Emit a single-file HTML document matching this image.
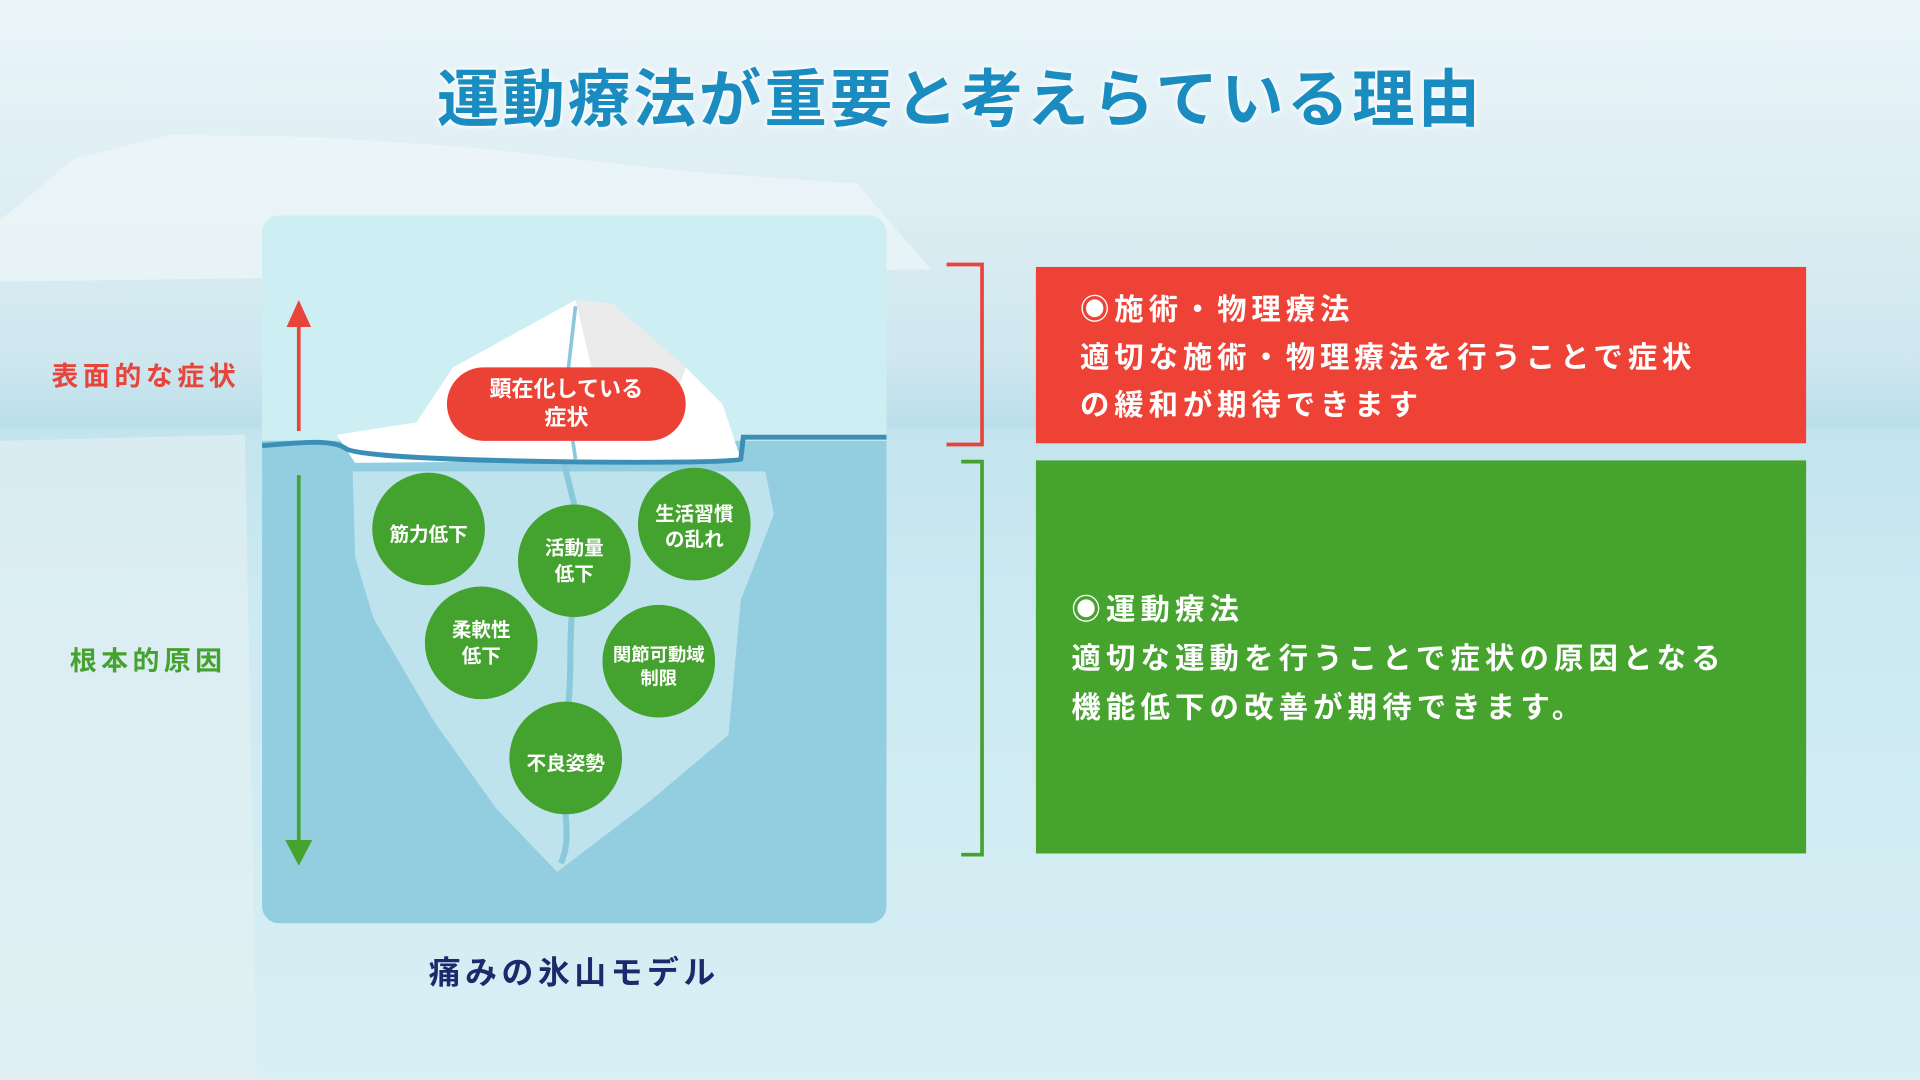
<!DOCTYPE html>
<html><head><meta charset="utf-8"><style>
html,body{margin:0;padding:0;width:1920px;height:1080px;overflow:hidden}
body{background:linear-gradient(180deg,#eaf5f9 0%,#dcedf3 20%,#cfe7ef 33%,#b9dfea 40%,#c9e9f1 55%,#d8f0f5 80%,#e2f4f7 100%)}
#s{position:absolute;left:0;top:0;width:1568px;height:882px;transform:scale(1.22449);transform-origin:0 0;font-family:"Liberation Sans","Noto Sans CJK JP",sans-serif;font-weight:bold}
.t{position:absolute;white-space:nowrap}
</style></head><body><div id="s">
<svg width="1568" height="882" style="position:absolute;left:0;top:0">
 <polygon points="0,180 60,130 140,110 260,112 380,120 560,140 700,150 760,220 0,230" fill="#f2f8fa" opacity="0.6"/>
 <rect x="0" y="350" width="1568" height="532" fill="#cdeaf2" opacity="0.5"/>
 <polygon points="0,360 200,355 210,882 0,882" fill="#e6f0f3" opacity="0.6"/>
 <defs><clipPath id="c"><rect x="214" y="176" width="510" height="578" rx="14"/></clipPath></defs>
 <g clip-path="url(#c)">
  <rect x="214" y="176" width="510" height="578" fill="#cdeef2"/>
  <rect x="214" y="360" width="510" height="400" fill="#92cde0"/>
  <polygon points="288,385 625,385 632,420 605,490 595,600 530,655 455,712 405,660 355,590 305,505 290,455" fill="#bfe3ec"/>
  <path d="M460,375 C470,420 480,440 470,480 C462,520 470,560 460,600 C455,650 470,680 458,705" stroke="#8cc8dc" stroke-width="5" fill="none"/>
  <polygon points="275,355 340,345 370,300 470,245 500,248 560,300 590,330 605,375 290,378" fill="#ffffff"/>
  <polygon points="470,245 500,248 560,300 540,360 490,330" fill="#e6e6e6" opacity="0.8"/>
  <path d="M470,250 L462,320 L470,375" stroke="#8cc8dc" stroke-width="3" fill="none"/>
  <path d="M214,364 C240,362 270,358 282,366 C290,378 600,380 605,375 L607,357 L724,357" stroke="#3b8fb6" stroke-width="4" fill="none"/>
  <line x1="244" y1="262" x2="244" y2="352" stroke="#e8443a" stroke-width="3"/>
  <polygon points="234,267 244,245 254,267" fill="#e8443a"/>
  <line x1="244" y1="388" x2="244" y2="690" stroke="#45a22f" stroke-width="3"/>
  <polygon points="233,686 244,707 255,686" fill="#45a22f"/>
  <rect x="365" y="300" width="195" height="60" rx="30" fill="#ec4236"/>
  <g fill="#44a22e">
   <circle cx="350" cy="432" r="46"/><circle cx="469" cy="458" r="46"/><circle cx="567" cy="428" r="46"/>
   <circle cx="393" cy="525" r="46"/><circle cx="538" cy="540" r="46"/><circle cx="462" cy="619" r="46"/>
  </g>
 </g>
 <path d="M773,216 H802 V363 H773" stroke="#e8443a" stroke-width="3" fill="none"/>
 <path d="M785,377 H802 V698 H785" stroke="#45a22f" stroke-width="3" fill="none"/>
 <rect x="846" y="218" width="629" height="144" fill="#ee4236"/>
 <rect x="846" y="376" width="629" height="321" fill="#46a32e"/>
</svg>
<div class="t" style="left:0;width:1568px;text-align:center;top:40px;font-size:51px;letter-spacing:2.5px;color:#1a8cc0;text-shadow:0 0 6px #fff,0 0 3px #fff">運動療法が重要と考えらている理由</div>
<div class="t" style="left:42px;top:290px;font-size:22px;letter-spacing:3.7px;color:#e8443a">表面的な症状</div>
<div class="t" style="left:57px;top:522px;font-size:22px;letter-spacing:3.6px;color:#45a22f">根本的原因</div>
<div class="t" style="left:365px;width:195px;top:307px;text-align:center;font-size:18px;line-height:23px;color:#fff">顕在化している<br>症状</div>
<div class="t" style="left:304px;width:92px;top:423px;text-align:center;font-size:16px;color:#fff">筋力低下</div>
<div class="t" style="left:423px;width:92px;top:438px;text-align:center;font-size:16px;line-height:21px;color:#fff">活動量<br>低下</div>
<div class="t" style="left:521px;width:92px;top:410px;text-align:center;font-size:16px;line-height:21px;color:#fff">生活習慣<br>の乱れ</div>
<div class="t" style="left:347px;width:92px;top:505px;text-align:center;font-size:16px;line-height:21px;color:#fff">柔軟性<br>低下</div>
<div class="t" style="left:492px;width:92px;top:526px;text-align:center;font-size:15px;line-height:19px;color:#fff">関節可動域<br>制限</div>
<div class="t" style="left:416px;width:92px;top:610px;text-align:center;font-size:16px;color:#fff">不良姿勢</div>
<div class="t" style="left:214px;width:510px;top:774px;text-align:center;font-size:26px;letter-spacing:3.7px;color:#1b2a6b">痛みの氷山モデル</div>
<div class="t" style="left:882px;top:234px;font-size:24px;line-height:39px;letter-spacing:4px;color:#fff">◉施術・物理療法<br>適切な施術・物理療法を行うことで症状<br>の緩和が期待できます</div>
<div class="t" style="left:875px;top:479px;font-size:24px;line-height:40px;letter-spacing:4.2px;color:#fff">◉運動療法<br>適切な運動を行うことで症状の原因となる<br>機能低下の改善が期待できます。</div>
</div></body></html>
